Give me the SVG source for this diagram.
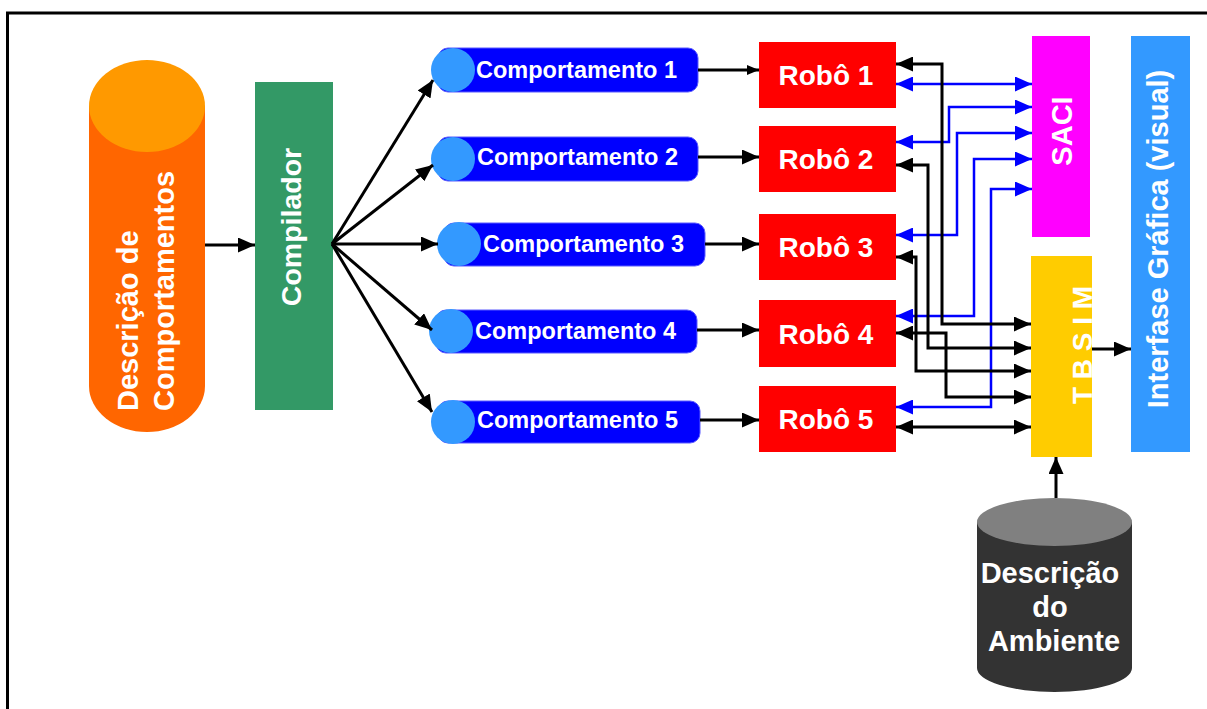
<svg xmlns="http://www.w3.org/2000/svg" width="1207" height="709" viewBox="0 0 1207 709">
  <style>
    .lbl { font-family: "Liberation Sans", Arial, sans-serif; font-weight: bold; fill: #ffffff; }
    .robo rect { fill: #ff0000; }
    .robo text { font-size: 28px; text-anchor: middle; }
    .comp rect { fill: #0000ff; stroke: #5a5aff; stroke-width: 1; }
    .comp circle { fill: #3399ff; }
    .comp text { font-size: 23.5px; }
    .blk { fill: none; stroke: #000000; stroke-width: 3; }
    .blu { fill: none; stroke: #0000ff; stroke-width: 2.5; }
  </style>
  <defs>
    <marker id="ah" markerUnits="userSpaceOnUse" markerWidth="17" markerHeight="15" refX="17" refY="7.5" orient="auto-start-reverse">
      <path d="M0,0 L17,7.5 L0,15 Z" fill="#000000"/>
    </marker>
    <marker id="ahs" markerUnits="userSpaceOnUse" markerWidth="12" markerHeight="10" refX="12" refY="5" orient="auto-start-reverse">
      <path d="M0,0 L12,5 L0,10 Z" fill="#000000"/>
    </marker>
    <marker id="ahb" markerUnits="userSpaceOnUse" markerWidth="17" markerHeight="15" refX="17" refY="7.5" orient="auto-start-reverse">
      <path d="M0,0 L17,7.5 L0,15 Z" fill="#0000ff"/>
    </marker>
  </defs>

  <!-- outer frame -->
  <rect x="7.5" y="13" width="1220" height="720" fill="none" stroke="#000000" stroke-width="3"/>

  <!-- source description cylinder -->
  <g id="descricao-comportamentos">
    <path d="M89,106 V386 A58,46 0 0 0 205,386 V106 Z" fill="#ff6600"/>
    <ellipse cx="147" cy="106" rx="58" ry="46" fill="#ff9900"/>
    <text class="lbl" font-size="29" transform="translate(138,411) rotate(-90)">Descrição de<tspan x="0" dy="36">Comportamentos</tspan></text>
  </g>

  <g id="compilador">
    <rect x="255" y="82" width="78" height="328" fill="#339966"/>
    <text class="lbl" font-size="28.5" text-anchor="middle" transform="translate(301,227) rotate(-90)">Compilador</text>
  </g>

  <!-- behaviours -->
  <g id="comportamento-1" class="comp">
    <rect x="438" y="48" width="260" height="44" rx="10"/>
    <circle cx="453" cy="70" r="22"/>
    <text class="lbl" x="476" y="78">Comportamento 1</text>
  </g>
  <g id="comportamento-2" class="comp">
    <rect x="438" y="137" width="260" height="44" rx="10"/>
    <circle cx="453" cy="159" r="22"/>
    <text class="lbl" x="477" y="165">Comportamento 2</text>
  </g>
  <g id="comportamento-3" class="comp">
    <rect x="444" y="223" width="261" height="43" rx="10"/>
    <circle cx="459" cy="244" r="22"/>
    <text class="lbl" x="483" y="252">Comportamento 3</text>
  </g>
  <g id="comportamento-4" class="comp">
    <rect x="436" y="310" width="261" height="43" rx="10"/>
    <circle cx="451" cy="331" r="22"/>
    <text class="lbl" x="475" y="339">Comportamento 4</text>
  </g>
  <g id="comportamento-5" class="comp">
    <rect x="438" y="401" width="262" height="42" rx="10"/>
    <circle cx="453" cy="422" r="22"/>
    <text class="lbl" x="477" y="428">Comportamento 5</text>
  </g>

  <!-- robots -->
  <g id="robo-1" class="robo">
    <rect x="759" y="42" width="137" height="66"/>
    <text class="lbl" x="826" y="85">Robô 1</text>
  </g>
  <g id="robo-2" class="robo">
    <rect x="759" y="126" width="137" height="66"/>
    <text class="lbl" x="826" y="169">Robô 2</text>
  </g>
  <g id="robo-3" class="robo">
    <rect x="759" y="214" width="137" height="66"/>
    <text class="lbl" x="826" y="257">Robô 3</text>
  </g>
  <g id="robo-4" class="robo">
    <rect x="759" y="300" width="137" height="67"/>
    <text class="lbl" x="826" y="344">Robô 4</text>
  </g>
  <g id="robo-5" class="robo">
    <rect x="759" y="386" width="137" height="66"/>
    <text class="lbl" x="826" y="429">Robô 5</text>
  </g>

  <g id="saci">
    <rect x="1032" y="36" width="58" height="201" fill="#ff00ff"/>
    <text class="lbl" font-size="29" text-anchor="middle" transform="translate(1072,131) rotate(-90)">SACI</text>
  </g>

  <g id="tbsim">
    <rect x="1031" y="256" width="61" height="201" fill="#ffcc00"/>
    <text class="lbl" font-size="28" text-anchor="middle" transform="translate(1092,345) rotate(-90)">T B S I M</text>
  </g>

  <g id="interfase">
    <rect x="1131" y="36" width="59" height="416" fill="#3399ff"/>
    <text class="lbl" font-size="29" text-anchor="middle" transform="translate(1168,239) rotate(-90)">Interfase Gráfica (visual)</text>
  </g>

  <g id="descricao-ambiente">
    <path d="M977,522 V668 A77.5,24 0 0 0 1132,668 V522 Z" fill="#333333"/>
    <ellipse cx="1054.5" cy="522" rx="77.5" ry="24" fill="#808080"/>
    <text class="lbl" font-size="29" text-anchor="middle">
      <tspan x="1054" y="583">Descrição</tspan>
      <tspan x="1054" y="617">do</tspan>
      <tspan x="1054" y="651">Ambiente</tspan>
    </text>
  </g>

  <!-- connectors -->
  <g id="connectors">
    <path class="blk" d="M205,245 H255" marker-end="url(#ah)"/>

    <!-- compiler fan-out -->
    <path class="blk" d="M332,244 L433,80" stroke-width="3.5" marker-end="url(#ah)"/>
    <path class="blk" d="M332,244 L433,165" stroke-width="3.5" marker-end="url(#ah)"/>
    <path class="blk" d="M332,244 L438,244" stroke-width="3.5" marker-end="url(#ah)"/>
    <path class="blk" d="M332,244 L432,330" stroke-width="2.5" marker-end="url(#ah)"/>
    <path class="blk" d="M332,244 L432,412" stroke-width="3.5" marker-end="url(#ah)"/>

    <!-- behaviour to robot -->
    <path class="blk" d="M698,70 H759" stroke-width="1.5" marker-end="url(#ahs)"/>
    <path class="blk" d="M698,157 H759" marker-end="url(#ah)"/>
    <path class="blk" d="M705,244 H759" marker-end="url(#ah)"/>
    <path class="blk" d="M697,330 H759" marker-end="url(#ah)"/>
    <path class="blk" d="M700,420 H759" marker-end="url(#ah)"/>

    <!-- robots to SACI -->
    <path class="blu" d="M896,84 H1032" stroke-width="3" marker-start="url(#ahb)" marker-end="url(#ahb)"/>
    <path class="blu" d="M896,142 H949 V107 H1032" marker-start="url(#ahb)" marker-end="url(#ahb)"/>
    <path class="blu" d="M896,235 H957 V133 H1032" stroke-width="2" marker-start="url(#ahb)" marker-end="url(#ahb)"/>
    <path class="blu" d="M896,316 H974 V159 H1032" stroke-width="1.5" marker-start="url(#ahb)" marker-end="url(#ahb)"/>
    <path class="blu" d="M896,407 H991 V189 H1032" marker-start="url(#ahb)" marker-end="url(#ahb)"/>

    <!-- robots to TBSIM -->
    <path class="blk" d="M896,64 H942 V324 H1031" stroke-width="3.5" marker-start="url(#ah)" marker-end="url(#ah)"/>
    <path class="blk" d="M896,165 H928 V348 H1031" marker-start="url(#ah)" marker-end="url(#ah)"/>
    <path class="blk" d="M896,257 H916 V371 H1031" stroke-width="2.5" marker-start="url(#ah)" marker-end="url(#ah)"/>
    <path class="blk" d="M896,333 H946 V397 H1031" marker-start="url(#ah)" marker-end="url(#ah)"/>
    <path class="blk" d="M896,427 H1031" marker-start="url(#ah)" marker-end="url(#ah)"/>

    <!-- simulator outputs and environment -->
    <path class="blk" d="M1092,349 H1131" marker-end="url(#ah)"/>
    <path class="blk" d="M1056,498 V457" marker-end="url(#ah)"/>
  </g>
</svg>
